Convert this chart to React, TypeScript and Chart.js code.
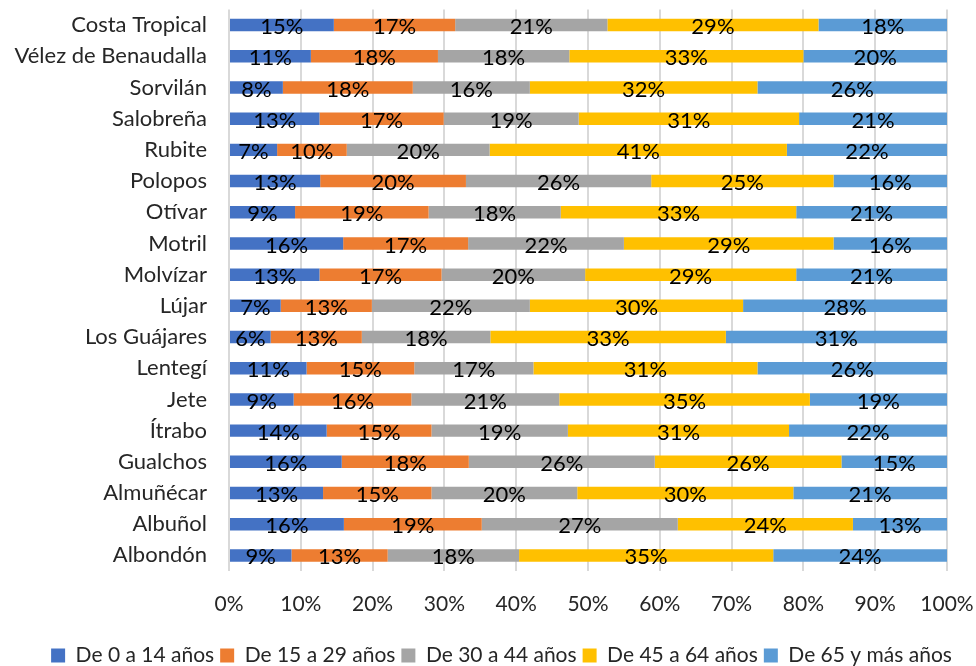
import React, { useEffect, useRef } from "react";
import { Chart, registerables } from "chart.js";

Chart.register(...registerables);

const categories = [
  "Costa Tropical", "Vélez de Benaudalla", "Sorvilán", "Salobreña", "Rubite", "Polopos",
  "Otívar", "Motril", "Molvízar", "Lújar", "Los Guájares", "Lentegí", "Jete", "Ítrabo",
  "Gualchos", "Almuñécar", "Albuñol", "Albondón",
];

const age0to14 = [14.6, 11.4, 7.5, 12.6, 6.7, 12.7, 9.2, 15.9, 12.6, 7.2, 5.8, 10.8, 9.0, 13.6, 15.7, 13.1, 16.0, 8.7];
const age15to29 = [16.9, 17.7, 18.1, 17.3, 9.7, 20.3, 18.6, 17.4, 17.0, 12.7, 12.7, 15.0, 16.4, 14.6, 17.7, 15.1, 19.2, 13.4];
const age30to44 = [21.2, 18.3, 16.3, 18.8, 19.9, 25.8, 18.4, 21.7, 20.0, 22.0, 17.9, 16.6, 20.6, 19.0, 25.9, 20.3, 27.3, 18.3];
const age45to64 = [29.4, 32.6, 31.7, 30.7, 41.4, 25.4, 32.8, 29.2, 29.4, 29.7, 32.8, 31.2, 34.9, 30.8, 26.0, 30.1, 24.4, 35.4];
const age65plus = [17.9, 20.0, 26.4, 20.6, 22.3, 15.8, 21.0, 15.8, 21.0, 28.4, 30.8, 26.4, 19.1, 22.0, 14.7, 21.4, 13.1, 24.2];

const seriesNames = ["De 0 a 14 años", "De 15 a 29 años", "De 30 a 44 años", "De 45 a 64 años", "De 65 y más años"];
const seriesColors = ["#4472C4", "#ED7D31", "#A5A5A5", "#FFC000", "#5B9BD5"];
const xTicks = [0, 10, 20, 30, 40, 50, 60, 70, 80, 90, 100];

const FONT = "Lato, 'Open Sans', sans-serif";

const labelPlugin = {
  id: "segLabels",
  afterDatasetsDraw(chart: any) {
    const ctx = chart.ctx;
    ctx.save();
    ctx.font = `22px ${FONT}`;
    ctx.fillStyle = "#000000";
    ctx.textAlign = "center";
    ctx.textBaseline = "middle";
    chart.data.datasets.forEach((ds: any, di: number) => {
      const meta = chart.getDatasetMeta(di);
      meta.data.forEach((bar: any, i: number) => {
        const v = ds.data[i];
        const cx = (bar.x + bar.base) / 2;
        ctx.fillText(Math.round(v) + "%", cx, bar.y + 2);
      });
    });
    ctx.restore();
  },
};

const legendShiftPlugin = {
  id: "legendShift",
  afterLayout(chart: any) {
    const lg = chart.legend;
    if (!lg) return;
    lg.top += 10;
    lg.bottom += 10;
    lg.left += 28;
    lg.right += 28;
  },
};

export default function App() {
  const ref = useRef<HTMLCanvasElement | null>(null);
  useEffect(() => {
    if (!ref.current) return;
    const data = [age0to14, age15to29, age30to44, age45to64, age65plus];
    const chart = new Chart(ref.current, {
      type: "bar",
      data: {
        labels: categories,
        datasets: data.map((d, i) => ({
          label: seriesNames[i],
          data: d,
          backgroundColor: seriesColors[i],
          borderWidth: 0,
          barPercentage: 0.4,
          categoryPercentage: 1,
        })),
      },
      options: {
        indexAxis: "y",
        animation: false,
        responsive: false,
        maintainAspectRatio: false,
        layout: { padding: { top: 9.5, right: 29, left: 0, bottom: 0 } },
        scales: {
          x: {
            stacked: true,
            min: 0,
            max: 100,
            afterBuildTicks: (scale: any) => {
              scale.ticks = xTicks.map((v) => ({ value: v }));
            },
            ticks: {
              callback: (v: any) => v + "%",
              font: { family: FONT, size: 21 },
              color: "#262626",
              padding: 21,
              maxRotation: 0,
            },
            grid: { color: "#D9D9D9", lineWidth: 2, drawTicks: false },
            border: { display: false },
            afterFit: (scale: any) => {
              scale.height = 58;
              scale.paddingLeft = 0;
              scale.paddingRight = 0;
            },
          },
          y: {
            stacked: true,
            ticks: {
              font: { family: FONT, size: 22 },
              color: "#262626",
              padding: 22,
            },
            grid: { display: false, drawTicks: false },
            border: { display: false },
            afterFit: (scale: any) => {
              scale.width = 229;
              scale.paddingTop = 0;
              scale.paddingBottom = 0;
            },
          },
        },
        plugins: {
          legend: {
            position: "bottom",
            labels: {
              font: { family: FONT, size: 21 },
              color: "#262626",
              boxWidth: 14,
              boxHeight: 14,
              padding: 6,
            },
          },
          tooltip: { enabled: false },
        },
      },
      plugins: [labelPlugin, legendShiftPlugin],
    } as any);
    return () => chart.destroy();
  }, []);
  return (
    <div style={{ position: "fixed", left: 0, top: 0, width: 976, height: 666, background: "#fff" }}>
      <canvas ref={ref} width={976} height={666} style={{ width: 976, height: 666 }} />
    </div>
  );
}
